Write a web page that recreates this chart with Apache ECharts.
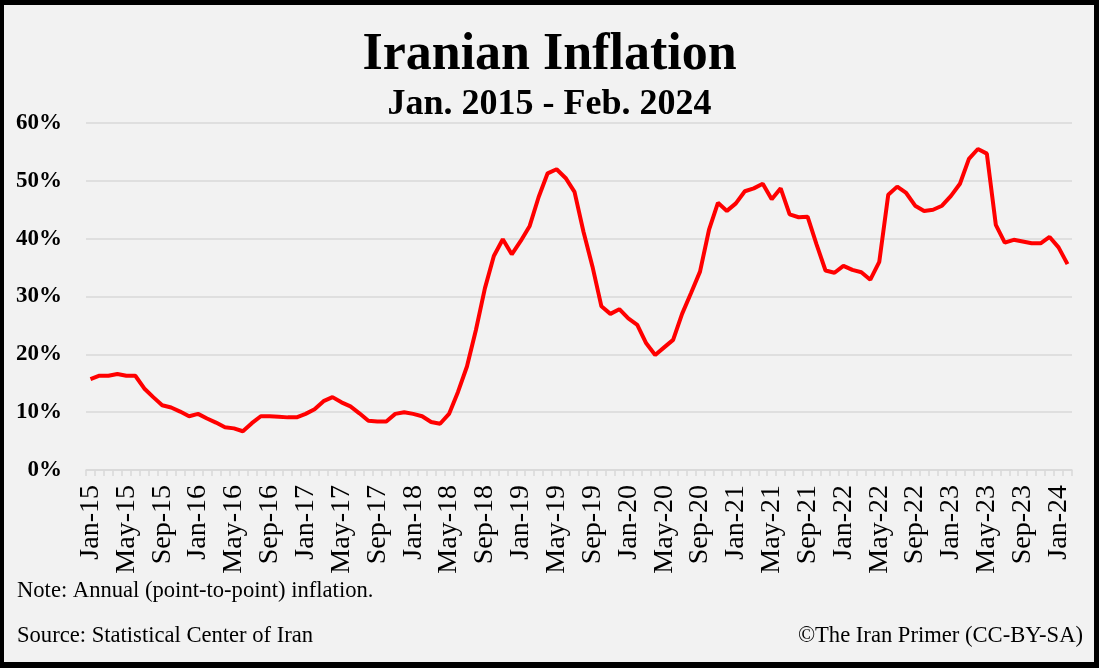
<!DOCTYPE html>
<html>
<head>
<meta charset="utf-8">
<script src="https://cdn.jsdelivr.net/npm/echarts@6/dist/echarts.min.js"></script>
<style>
html,body{margin:0;padding:0;background:#f2f2f2;}
#chart{width:1099px;height:668px;}
</style>
</head>
<body>
<div id="chart"></div>
<script>
const monthNames = ['Jan','Feb','Mar','Apr','May','Jun','Jul','Aug','Sep','Oct','Nov','Dec'];
const categories = [];
for (let y = 15; y <= 24; y++) {
  for (let m = 0; m < 12; m++) {
    if (y === 24 && m > 1) break;
    categories.push(monthNames[m] + '-' + y);
  }
}
const inflation = [
  15.7,16.3,16.3,16.6,16.3,16.3,14.1,12.6,11.2,10.8,10.1,9.3,
  9.7,8.9,8.2,7.4,7.2,6.7,8.1,9.3,9.3,9.2,9.1,9.1,
  9.7,10.5,11.9,12.6,11.7,11.0,9.8,8.5,8.4,8.4,9.7,10.0,
  9.7,9.3,8.3,8.0,9.7,13.5,17.9,24.2,31.4,37.0,39.9,37.3,
  39.6,42.2,47.2,51.3,52.0,50.5,48.1,41.2,35.2,28.3,27.0,27.8,
  26.2,25.1,21.9,19.9,21.2,22.5,27.0,30.6,34.3,41.5,46.2,44.8,
  46.1,48.2,48.7,49.5,46.8,48.7,44.2,43.7,43.8,39.0,34.5,34.1,
  35.3,34.6,34.2,32.9,36.0,47.6,49.0,47.9,45.7,44.8,45.0,45.7,
  47.4,49.5,53.8,55.5,54.7,42.4,39.3,39.8,39.5,39.2,39.2,40.3,
  38.5,35.6
];
const titleText = 'Iranian Inflation';
const subtitleText = 'Jan. 2015 - Feb. 2024';
const noteText = 'Note: Annual (point-to-point) inflation.';
const sourceText = 'Source: Statistical Center of Iran';
const creditText = '\u00A9The Iran Primer (CC-BY-SA)';

const serif = '"Liberation Serif", "DejaVu Serif", serif';
const chart = echarts.init(document.getElementById('chart'));
chart.setOption({
  backgroundColor: '#f2f2f2',
  animation: false,
  title: [
    { text: titleText, left: 'center', top: 25,
      textStyle: { fontFamily: serif, fontSize: 52, fontWeight: 'bold', color: '#000' } },
    { text: subtitleText, left: 'center', top: 82,
      textStyle: { fontFamily: serif, fontSize: 36, fontWeight: 'bold', color: '#000' } }
  ],
  grid: { left: 86, right: 27, top: 123, bottom: 198, containLabel: false, outerBoundsMode: 'none' },
  xAxis: {
    type: 'category',
    data: categories,
    boundaryGap: true,
    axisLine: { show: true, lineStyle: { color: '#d9d9d9', width: 1.5 } },
    axisTick: { show: true, interval: 0, length: 6, lineStyle: { color: '#d9d9d9', width: 1.5 } },
    axisLabel: { interval: 3, rotate: 90, margin: 15, color: '#000', fontFamily: serif, fontSize: 28 },
    splitLine: { show: false }
  },
  yAxis: {
    type: 'value',
    min: 0, max: 60, interval: 10,
    axisLine: { show: false },
    axisTick: { show: false },
    axisLabel: { formatter: '{value}%', margin: 24, color: '#000', fontFamily: serif, fontSize: 23, fontWeight: 'bold' },
    splitLine: { show: true, lineStyle: { color: '#d9d9d9', width: 1.5 } }
  },
  series: [{
    type: 'line',
    data: inflation,
    showSymbol: false,
    symbol: 'none',
    lineStyle: { color: '#ff0000', width: 4 },
    itemStyle: { color: '#ff0000' }
  }],
  graphic: [
    { type: 'text', left: 17, top: 580, style: { text: noteText, font: '22.6px ' + serif, fill: '#000' } },
    { type: 'text', left: 17, top: 625, style: { text: sourceText, font: '22.6px ' + serif, fill: '#000' } },
    { type: 'text', right: 16, top: 625, style: { text: creditText, font: '22.6px ' + serif, fill: '#000' } },
    { type: 'rect', shape: { x: 0, y: 0, width: 4, height: 668 }, style: { fill: '#000' } },
    { type: 'rect', shape: { x: 0, y: 0, width: 1099, height: 5 }, style: { fill: '#000' } },
    { type: 'rect', shape: { x: 1094, y: 0, width: 5, height: 668 }, style: { fill: '#000' } },
    { type: 'rect', shape: { x: 0, y: 662, width: 1099, height: 6 }, style: { fill: '#000' } }
  ]
});
</script>
</body>
</html>
